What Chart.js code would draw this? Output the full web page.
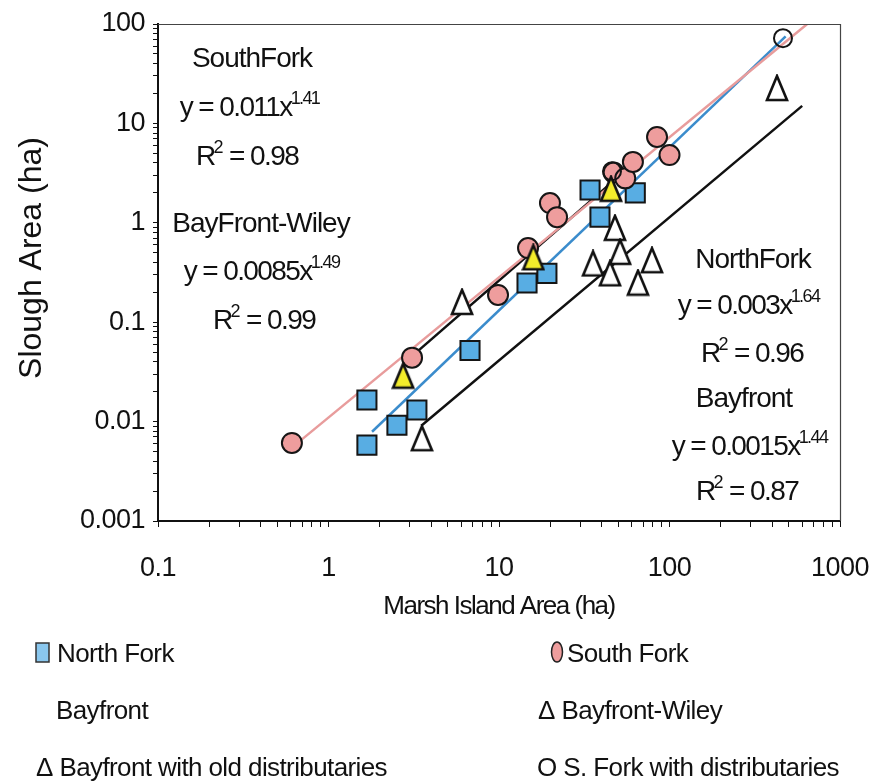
<!DOCTYPE html>
<html>
<head>
<meta charset="utf-8">
<script src="https://cdn.jsdelivr.net/npm/chart.js@4.4.0/dist/chart.umd.min.js"></script>
<style>
  html, body { margin: 0; padding: 0; background: #fff; }
  #wrap { width: 875px; height: 781px; }
</style>
</head>
<body>
<div id="wrap"><canvas id="slough-chart" width="875" height="781"></canvas></div>
<script>
// marsh island area (ha) -> slough area (ha)
const northForkX = [1.68, 1.68, 2.52, 3.3, 6.76, 14.6, 19.1, 34.2, 39.1, 63];
const northForkY = [0.0165, 0.0058, 0.0092, 0.0131, 0.052, 0.248, 0.31, 2.14, 1.14, 2.0];

const southForkX = [0.61, 3.09, 9.87, 14.8, 19.9, 21.9, 47, 55, 61, 84.5, 100];
const southForkY = [0.0061, 0.044, 0.188, 0.557, 1.58, 1.14, 3.2, 2.8, 4.1, 7.3, 4.8];

const sForkDistX = [46, 463];
const sForkDistY = [3.3, 72];

const wileyX = [2.74, 15.9, 45.4];
const wileyY = [0.029, 0.45, 2.2];

const bayfrontX = [3.53, 35.6, 44.8, 47.9, 51.3, 65.3, 78.9];
const bayfrontY = [0.0068, 0.39, 0.31, 0.89, 0.51, 0.25, 0.42];

const oldDistX = [6.07, 427];
const oldDistY = [0.16, 22.7];

// trend lines (ends), same order as fitNames
const fitNames = ['SouthFork', 'BayFront-Wiley', 'NorthFork', 'Bayfront'];
const fitEq = ['y = 0.011x', 'y = 0.0085x', 'y = 0.003x', 'y = 0.0015x'];
const fitExp = ['1.41', '1.49', '1.64', '1.44'];
const fitR2 = ['0.98', '0.99', '0.96', '0.87'];
const trendX = [[0.62, 640], [3.2, 45], [1.8, 480], [3.5, 600]];
const trendY = [[0.0056, 99.5], [0.048, 2.47], [0.0079, 75], [0.0091, 15.0]];

const xMajor = [0.1, 1, 10, 100, 1000];
const yMajor = [0.001, 0.01, 0.1, 1, 10, 100];
const xTitle = 'Marsh Island Area (ha)';
const yTitle = 'Slough Area (ha)';

const legendLabels = ['North Fork', 'South Fork', 'Bayfront', '\u0394 Bayfront-Wiley',
  '\u0394 Bayfront with old distributaries', 'O S. Fork with distributaries'];

const FONT = '"Liberation Sans", Arial, sans-serif';
Chart.defaults.font.family = FONT;
Chart.defaults.color = '#111';

function pts(xs, ys) {
  return xs.map((x, i) => ({x: x, y: ys[i]}));
}

function withMinors(majors) {
  const out = [];
  majors.forEach((m, i) => {
    out.push(m);
    if (i < majors.length - 1) {
      for (let k = 2; k <= 9; k++) out.push(m * k);
    }
  });
  return out;
}

function triangle(fill) {
  const c = document.createElement('canvas');
  c.width = 24;
  c.height = 28;
  const g = c.getContext('2d');
  g.beginPath();
  g.moveTo(12, 2);
  g.lineTo(22, 26);
  g.lineTo(2, 26);
  g.closePath();
  g.fillStyle = fill;
  g.fill();
  g.lineWidth = 2.6;
  g.strokeStyle = '#111';
  g.stroke();
  return c;
}

const openTri = triangle('#ffffff');
const yellowTri = triangle('#f3ec2b');

const lineColors = ['#e89c9c', '#111111', '#3b8ccc', '#111111'];

const trendSets = fitNames.map((n, i) => ({
  label: n + ' fit',
  data: pts(trendX[i], trendY[i]),
  showLine: true,
  pointRadius: 0,
  borderColor: lineColors[i],
  borderWidth: 2.5,
  fill: false,
  order: 10
}));

function drawRuns(ctx, runs, cx, base, size) {
  const supSize = Math.round(size * 0.64);
  let w = 0;
  runs.forEach(r => {
    ctx.font = (r.sup ? supSize : size) + 'px ' + FONT;
    r.w = ctx.measureText(r.t).width;
    w += r.w;
  });
  let x = cx - w / 2;
  runs.forEach(r => {
    ctx.font = (r.sup ? supSize : size) + 'px ' + FONT;
    if (r.sup) {
      ctx.fillText(r.t, x - 1, base - size * 0.42);
    } else {
      ctx.fillText(r.t, x, base);
    }
    x += r.w;
  });
}

const annotate = {
  id: 'annotate',
  beforeDraw(chart) {
    chart.ctx.letterSpacing = '-0.5px';
  },
  afterDraw(chart) {
    const ctx = chart.ctx;
    const a = chart.chartArea;
    ctx.save();
    // rest of the plot box
    ctx.strokeStyle = '#444';
    ctx.lineWidth = 1.2;
    ctx.beginPath();
    ctx.moveTo(a.left, a.top + 0.5);
    ctx.lineTo(a.right + 0.5, a.top + 0.5);
    ctx.lineTo(a.right + 0.5, a.bottom);
    ctx.stroke();

    ctx.fillStyle = '#111';
    ctx.textAlign = 'left';
    ctx.textBaseline = 'alphabetic';

    // axis titles
    ctx.letterSpacing = '-1.5px';
    ctx.font = '26px ' + FONT;
    ctx.textAlign = 'center';
    ctx.fillText(xTitle, (a.left + a.right) / 2, 614);
    ctx.save();
    ctx.translate(41, 258);
    ctx.rotate(-Math.PI / 2);
    ctx.letterSpacing = '0px';
    ctx.font = '32px ' + FONT;
    ctx.fillText(yTitle, 0, 0);
    ctx.restore();
    ctx.textAlign = 'left';

    const blocks = [
      {cx: [252, 250, 247], base: [67, 116, 165]},
      {cx: [261, 262, 264], base: [232, 280, 329]},
      {cx: [753, 749, 752], base: [268, 314, 362]},
      {cx: [744, 750, 747], base: [407, 455, 500]}
    ];
    blocks.forEach((b, i) => {
      ctx.letterSpacing = '-1px';
      drawRuns(ctx, [{t: fitNames[i]}], b.cx[0], b.base[0], 28);
      ctx.letterSpacing = '-1.6px';
      drawRuns(ctx, [{t: fitEq[i]}, {t: fitExp[i], sup: true}], b.cx[1], b.base[1], 28);
      drawRuns(ctx, [{t: 'R'}, {t: '2', sup: true}, {t: ' = ' + fitR2[i]}], b.cx[2], b.base[2], 28);
    });

    // legend below the plot
    ctx.letterSpacing = '-0.6px';
    ctx.font = '26px ' + FONT;
    const slots = [[57, 662], [567, 662], [56, 719], [538, 719], [36, 776], [537, 776]];
    legendLabels.forEach((t, i) => {
      ctx.fillStyle = '#111';
      ctx.fillText(t, slots[i][0], slots[i][1]);
    });
    ctx.fillStyle = '#8ac7ee';
    ctx.fillRect(36, 643, 13, 19);
    ctx.strokeStyle = '#333';
    ctx.lineWidth = 1.5;
    ctx.strokeRect(36, 643, 13, 19);
    ctx.beginPath();
    ctx.ellipse(557, 652, 5.5, 10, 0, 0, Math.PI * 2);
    ctx.fillStyle = '#ee9d9d';
    ctx.fill();
    ctx.strokeStyle = '#222';
    ctx.stroke();
    ctx.restore();
  }
};

const ctx = document.getElementById('slough-chart').getContext('2d');
const chart = new Chart(ctx, {
  type: 'scatter',
  data: {
    datasets: [
      {
        label: 'North Fork',
        data: pts(northForkX, northForkY),
        pointStyle: 'rect',
        pointRadius: 13.5,
        backgroundColor: '#58ade3',
        borderColor: '#151515',
        borderWidth: 2,
        order: 2
      },
      {
        label: 'South Fork',
        data: pts(southForkX, southForkY),
        pointStyle: 'circle',
        pointRadius: 10,
        backgroundColor: '#ee9d9d',
        borderColor: '#151515',
        borderWidth: 2,
        order: 1
      },
      {
        label: 'Bayfront',
        data: pts(bayfrontX, bayfrontY),
        pointStyle: openTri,
        order: 1
      },
      {
        label: 'Bayfront-Wiley',
        data: pts(wileyX, wileyY),
        pointStyle: yellowTri,
        order: 0
      },
      {
        label: 'Bayfront with old distributaries',
        data: pts(oldDistX, oldDistY),
        pointStyle: openTri,
        order: 1
      },
      {
        label: 'S. Fork with distributaries',
        data: pts(sForkDistX, sForkDistY),
        pointStyle: 'circle',
        pointRadius: 9,
        backgroundColor: 'rgba(255,255,255,0)',
        borderColor: '#151515',
        borderWidth: 2,
        order: 0
      }
    ].concat(trendSets)
  },
  options: {
    responsive: false,
    animation: false,
    layout: { padding: { top: 24, right: 35, bottom: 160, left: 0 } },
    plugins: {
      legend: { display: false },
      tooltip: { enabled: false }
    },
    scales: {
      x: {
        type: 'logarithmic',
        position: 'bottom',
        min: 0.1,
        max: 1000,
        afterBuildTicks: s => { s.ticks = withMinors(xMajor).map(v => ({value: v})); },
        afterFit: s => { s.height = 100; s.paddingLeft = 0; s.paddingRight = 0; },
        ticks: {
          autoSkip: false,
          maxRotation: 0,
          padding: 25,
          font: { size: 27 },
          color: '#111',
          callback: v => xMajor.includes(v) ? String(v) : ''
        },
        grid: { drawOnChartArea: false, drawTicks: true, tickLength: 6, color: '#111', tickWidth: 1 },
        border: { display: true, color: '#111', width: 2 },
        title: { display: false }
      },
      y: {
        type: 'logarithmic',
        position: 'left',
        min: 0.001,
        max: 100,
        afterBuildTicks: s => { s.ticks = withMinors(yMajor).map(v => ({value: v})); },
        afterFit: s => { s.width = 158; s.paddingTop = 0; s.paddingBottom = 0; },
        ticks: {
          autoSkip: false,
          padding: 8,
          font: { size: 27 },
          color: '#111',
          callback: v => yMajor.includes(v) ? String(v) : ''
        },
        grid: { drawOnChartArea: false, drawTicks: true, tickLength: 5, color: '#111', tickWidth: 1 },
        border: { display: true, color: '#111', width: 2 },
        title: { display: false }
      }
    }
  },
  plugins: [annotate]
});
</script>
</body>
</html>
